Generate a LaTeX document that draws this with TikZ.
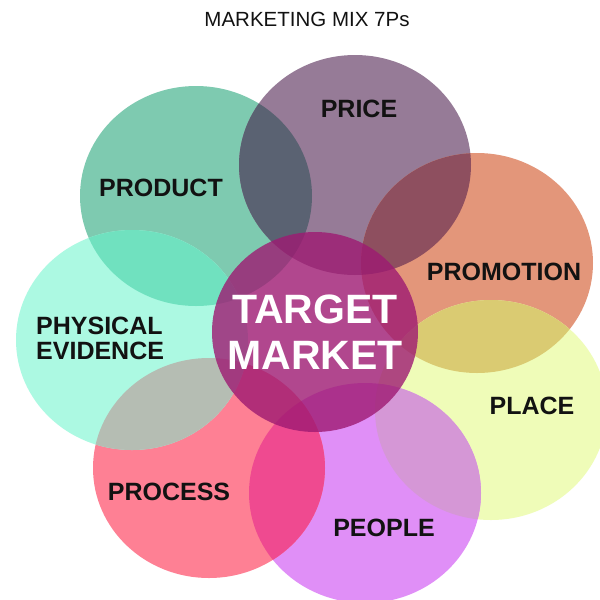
\documentclass[tikz,border=0pt]{standalone}
\usepackage{fontspec}
\setmainfont{Liberation Sans}
\definecolor{ProductGreen}{RGB}{126,202,176}
\definecolor{PriceMauve}{RGB}{150,123,151}
\definecolor{PromoSalmon}{RGB}{227,150,122}
\definecolor{PlaceLime}{RGB}{239,252,184}
\definecolor{PeopleViolet}{RGB}{224,143,247}
\definecolor{ProcessPink}{RGB}{254,128,148}
\definecolor{EvidenceMint}{RGB}{172,249,226}
\definecolor{TargetMagenta}{RGB}{158,26,114}
% colours where two Ps overlap
\definecolor{ProductPrice}{RGB}{90,98,114}
\definecolor{PricePromo}{RGB}{142,79,95}
\definecolor{PromoPlace}{RGB}{218,203,114}
\definecolor{PlacePeople}{RGB}{213,151,214}
\definecolor{PeopleProcess}{RGB}{239,74,144}
\definecolor{ProcessEvidence}{RGB}{181,189,179}
\definecolor{EvidenceProduct}{RGB}{112,225,191}
\usetikzlibrary{shapes,positioning}

\begin{document}
\begin{tikzpicture}[
    x=1pt, y=-1pt,
    every node/.style={font=\bfseries\fontsize{25}{25}\selectfont, text=black!93},
    petal/.style={ellipse, minimum width=232pt, minimum height=220pt, inner sep=0pt},
    core/.style={ellipse, minimum width=206pt, minimum height=200pt, inner sep=0pt,
      fill=TargetMagenta, fill opacity=0.8}
  ]
    \useasboundingbox (0,0) rectangle (600,600);
    \clip (0,0) rectangle (600,600);
    \fill[white] (0,0) rectangle (600,600);

    % the seven Ps
    \node[petal, fill=ProductGreen] (product) at (196,196) {};
    \node[petal, fill=PriceMauve] (price) at (355,165) {};
    \node[petal, fill=PromoSalmon] (promotion) at (477,263) {};
    \node[petal, fill=PlaceLime] (place) at (491,410) {};
    \node[petal, fill=PeopleViolet] (people) at (365,493) {};
    \node[petal, fill=ProcessPink] (process) at (209,468) {};
    \node[petal, fill=EvidenceMint] (evidence) at (132,340) {};

    % overlaps of neighbours
    \foreach \a/\b/\col in {product/price/ProductPrice, price/promotion/PricePromo,
        promotion/place/PromoPlace, place/people/PlacePeople, people/process/PeopleProcess,
        process/evidence/ProcessEvidence, evidence/product/EvidenceProduct} {
      \begin{scope}
        \clip (\a.center) ellipse [x radius=116, y radius=110];
        \fill[\col] (\b.center) ellipse [x radius=116, y radius=110];
      \end{scope}
    }

    \node[core] (target) at (315,332) {};
    \node[text=white, align=center, inner sep=0pt, font=\bfseries\fontsize{41}{46}\selectfont]
      (targetText) at (target.center) {TARGET\\MARKET};

    % labels
    \node (priceText) at (359,109) {PRICE};
    \node (productText) at (161,188) {PRODUCT};
    \node (promotionText) at (504,272) {PROMOTION};
    \node[anchor=west, align=left, inner sep=0pt] (evidenceText) at (36,338) {PHYSICAL\\EVIDENCE};
    \node (placeText) at (532,406) {PLACE};
    \node (processText) at (169,492) {PROCESS};
    \node (peopleText) at (384,528) {PEOPLE};

    \node[font=\fontsize{20.5}{24}\selectfont] (title) at (307,19) {MARKETING MIX 7Ps};
  \end{tikzpicture}
\end{document}
